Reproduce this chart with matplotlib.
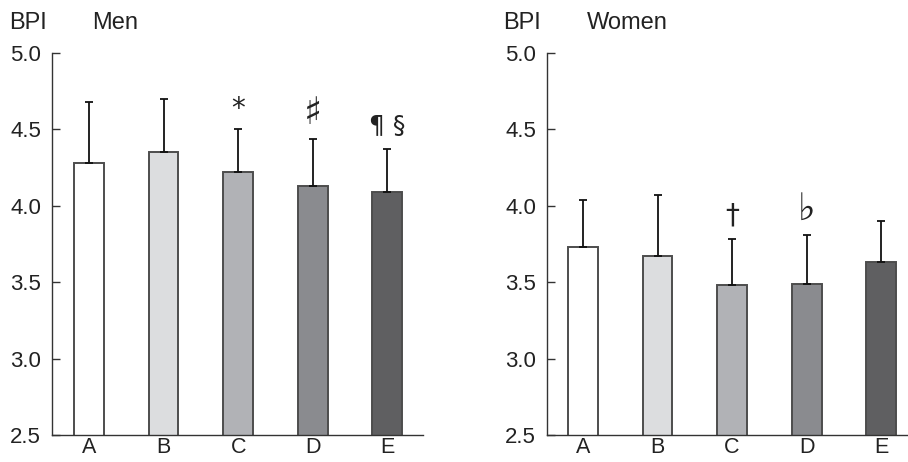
import matplotlib
matplotlib.use("Agg")
import matplotlib.pyplot as plt

categories = ["A", "B", "C", "D", "E"]
men_mean = [4.28, 4.35, 4.22, 4.13, 4.09]
men_sd = [0.40, 0.35, 0.28, 0.31, 0.28]
women_mean = [3.73, 3.67, 3.48, 3.49, 3.63]
women_sd = [0.31, 0.40, 0.30, 0.32, 0.27]
men_marks = ["", "", "*", "\u266f", "\u00b6 \u00a7"]
women_marks = ["", "", "\u2020", "\u266d", ""]
yticks = [2.5, 3.0, 3.5, 4.0, 4.5, 5.0]
colors = ["#ffffff", "#dcdddf", "#b1b2b6", "#8a8b8f", "#5f5f61"]

plt.rcParams['font.family'] = ['Liberation Sans', 'DejaVu Sans']

fig = plt.figure(figsize=(9.08, 4.62), dpi=100)
W, H = 908, 462
TXT = "#222222"
MARK_STYLE = {"*": (20, 15, "normal"), "\u266f": (27, 18, "bold"),
              "\u266d": (27, 18, "normal"), "\u2020": (20, 17, "normal"),
              "\u00b6 \u00a7": (18, 17, "normal")}

def make_ax(left_px, right_px, xlim):
    ax = fig.add_axes([left_px / W, (H - 435) / H, (right_px - left_px) / W, (435 - 53) / H])
    ax.set_xlim(*xlim)
    ax.set_ylim(2.5, 5.0)
    for s in ["top", "right"]:
        ax.spines[s].set_visible(False)
    for s in ["left", "bottom"]:
        ax.spines[s].set_color("#333333")
        ax.spines[s].set_linewidth(1.0)
    ax.set_yticks(yticks)
    ax.set_yticklabels([f"{v:.1f}" for v in yticks])
    ax.tick_params(axis="y", direction="in", length=6, width=1.0, color="#333333",
                   labelsize=16, pad=8, labelcolor=TXT)
    ax.set_xticks(range(len(categories)))
    ax.set_xticklabels(categories)
    ax.tick_params(axis="x", length=0, labelsize=15.5, pad=1.5, labelcolor=TXT)
    return ax

def draw(ax, means, sds, marks):
    x = list(range(len(categories)))
    ax.bar(x, means, width=0.40, bottom=0, color=colors, edgecolor="#4d4d4d",
           linewidth=1.4, zorder=2)
    ax.errorbar(x, means, yerr=[[0] * len(sds), sds], fmt="none", ecolor="#111111",
                elinewidth=1.3, capsize=3.2, capthick=1.3, zorder=3)
    for xi, m, s, t in zip(x, means, sds, marks):
        if t:
            fs, dy, fw = MARK_STYLE[t]
            ax.annotate(t, xy=(xi, m + s), xytext=(0, dy), textcoords="offset points",
                        ha="center", va="center", fontsize=fs, color=TXT,
                        fontweight=fw, family=["DejaVu Sans"])

ax1 = make_ax(52, 423, (-0.497, 4.48))
draw(ax1, men_mean, men_sd, men_marks)
ax2 = make_ax(547, 908, (-0.483, 4.36))
draw(ax2, women_mean, women_sd, women_marks)

for x, t in [(9, "BPI"), (92, "Men"), (503, "BPI"), (587, "Women")]:
    fig.text(x / W, 1 - 23 / H, t, fontsize=17, va="center", ha="left", color=TXT)

fig.savefig("out.png", dpi=100)
